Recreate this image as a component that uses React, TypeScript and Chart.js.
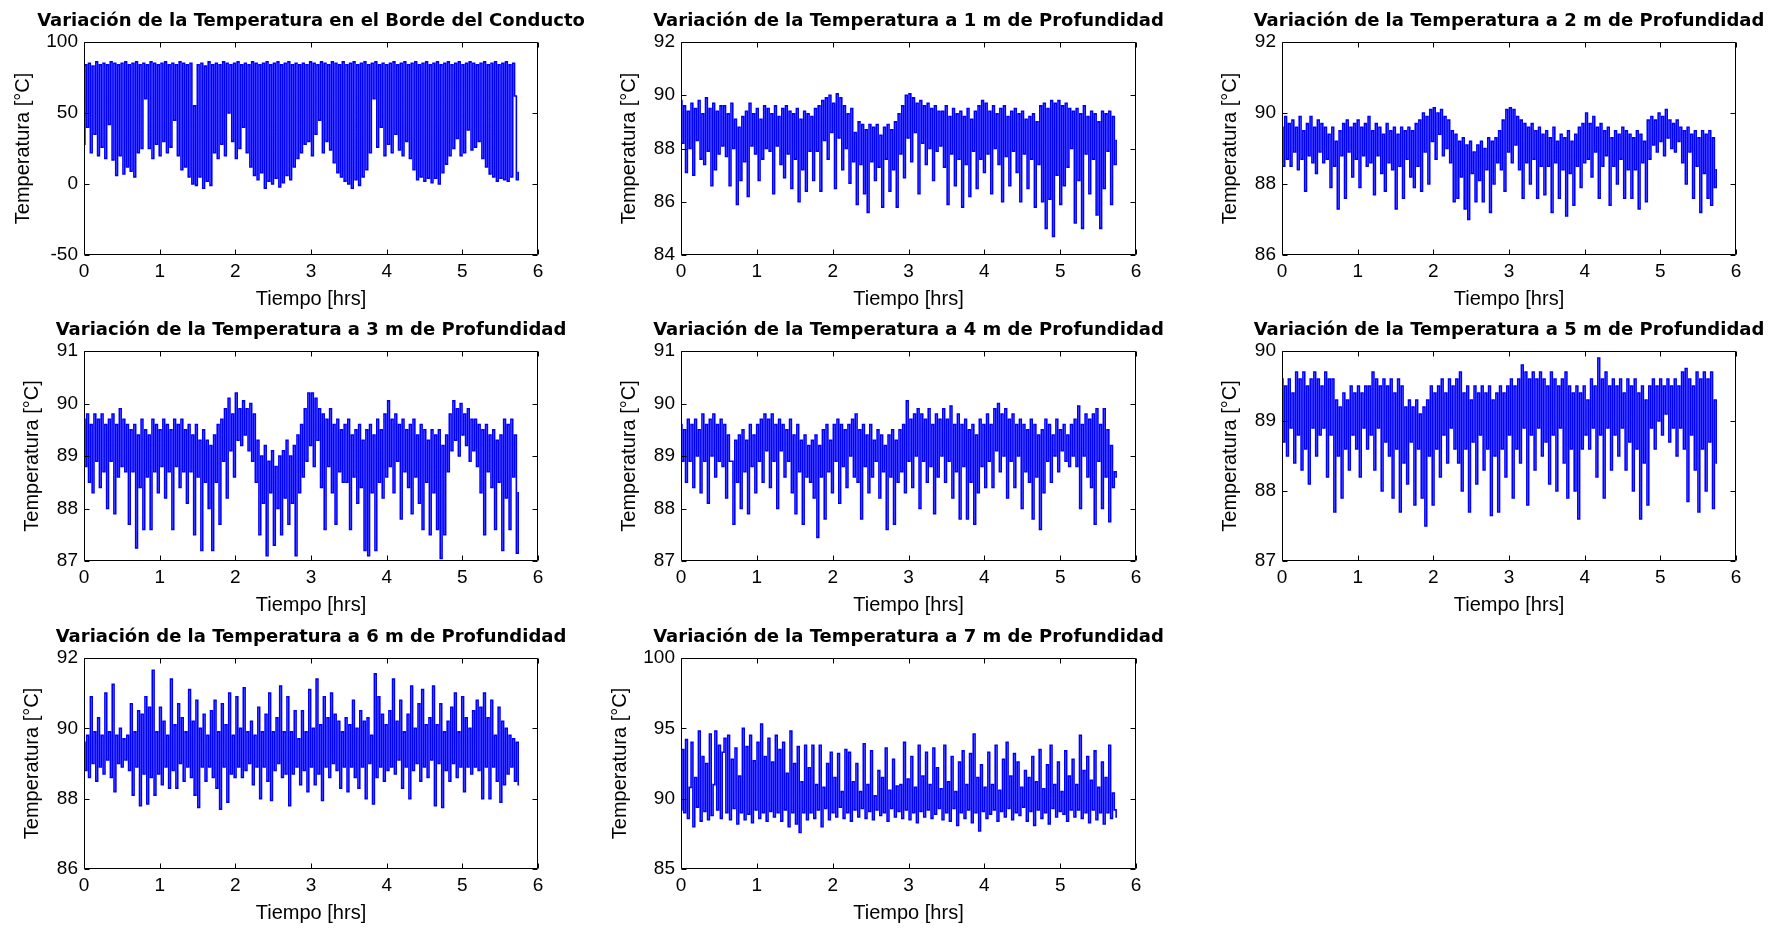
import React, { useEffect, useRef } from 'react';
import { Chart, registerables } from 'chart.js';

Chart.register(...registerables);

// ---------------- DATA ----------------
const TIEMPO_FIN_HRS = 5.75;
const X_MIN = 0;
const X_MAX = 6;
const X_STEP = 1;
const X_LABEL = 'Tiempo [hrs]';
const Y_LABEL = 'Temperatura [°C]';

const titulos = [
  'Variación de la Temperatura en el Borde del Conducto',
  'Variación de la Temperatura a 1 m de Profundidad',
  'Variación de la Temperatura a 2 m de Profundidad',
  'Variación de la Temperatura a 3 m de Profundidad',
  'Variación de la Temperatura a 4 m de Profundidad',
  'Variación de la Temperatura a 5 m de Profundidad',
  'Variación de la Temperatura a 6 m de Profundidad',
  'Variación de la Temperatura a 7 m de Profundidad',
];

// y-axis ranges [min, max, step]
const rangosY: [number, number, number][] = [
  [-50, 100, 50],
  [84, 92, 2],
  [86, 92, 2],
  [87, 91, 1],
  [87, 91, 1],
  [87, 90, 1],
  [86, 92, 2],
  [85, 100, 5],
];

const tempBorde = [
  28,84,40,85,22,83,35,86,20,84,26,85,18,84,42,86,17,85,6,84,20,85,7,86,
  12,84,9,85,5,86,22,84,25,85,60,84,25,86,18,85,28,84,20,85,30,86,22,84,
  26,85,45,84,20,86,10,85,12,84,5,85,0,55,-1,84,5,85,-3,83,2,86,-1,84,
  22,85,18,84,28,86,20,85,50,84,30,85,18,86,25,84,40,85,22,84,12,86,6,85,
  3,84,8,85,-3,86,2,84,0,85,4,86,-2,84,1,85,6,86,3,84,12,85,18,84,
  22,85,28,84,30,86,20,85,35,84,45,86,22,85,30,84,24,86,15,85,8,84,5,86,
  2,84,0,85,-3,86,3,84,-1,85,5,86,10,84,22,85,60,86,26,84,40,85,20,84,
  28,85,22,86,35,84,24,85,20,86,30,84,18,85,10,86,3,84,5,85,2,86,4,84,
  1,85,4,86,0,84,8,85,14,86,20,84,25,85,32,86,20,84,22,85,38,86,24,85,
  26,84,30,85,18,86,12,84,7,85,5,86,2,84,4,85,3,86,2,84,5,85,62,3,8,
];

const temp1m = [
  89.8,88.2,89.6,87.1,89.4,88.0,89.7,87.0,89.5,88.3,89.8,87.6,89.3,87.4,89.9,87.9,89.5,86.6,89.7,87.2,89.4,87.8,89.6,88.1,
  89.6,87.7,89.3,86.6,89.7,88.0,89.1,85.9,88.8,86.8,89.2,87.5,89.4,86.2,89.7,88.1,89.3,87.8,89.5,86.8,89.1,87.6,89.6,88.0,
  89.5,87.9,89.3,86.3,89.6,88.1,89.2,87.4,89.5,86.9,89.6,87.8,89.4,86.5,89.3,87.6,89.5,86.0,89.1,87.2,89.4,86.4,89.3,87.9,
  89.2,86.8,89.5,87.9,89.6,86.4,89.8,88.3,89.9,87.6,90.0,88.6,89.7,86.5,90.05,88.4,89.9,87.2,89.6,88.0,89.3,86.7,89.5,87.5,
  88.6,85.9,89.0,87.4,88.9,86.3,88.7,85.6,88.9,87.5,88.8,86.8,88.9,87.3,88.5,85.8,88.8,87.6,88.9,86.4,88.7,87.2,89.0,85.8,
  89.3,87.8,89.6,86.9,90.0,88.4,90.05,87.5,89.9,88.6,89.7,86.3,89.8,88.2,89.6,87.4,89.7,88.0,89.5,86.8,89.6,87.9,89.4,88.1,
  89.4,87.3,89.6,85.9,89.2,87.8,89.5,86.6,89.3,87.6,89.4,85.8,89.2,87.4,89.5,86.2,89.1,87.9,89.4,86.5,89.6,87.6,89.8,87.1,
  89.7,87.8,89.4,86.3,89.6,88.0,89.3,87.4,89.5,86.0,89.6,87.7,89.2,86.6,89.4,87.9,89.5,87.1,89.3,86.0,89.4,87.8,89.1,86.5,
  89.2,87.6,89.3,85.8,89.0,87.4,89.6,86.0,89.7,85.0,89.5,86.1,89.8,84.7,89.7,87.0,89.8,85.9,89.6,86.6,89.7,87.3,89.5,88.0,
  89.4,85.2,89.5,86.8,89.3,85.0,89.6,87.8,89.2,86.3,89.4,87.6,89.3,85.5,89.0,85.0,89.4,86.5,89.3,87.9,89.4,85.9,89.2,87.4,88.3,
];

const temp2m = [
  89.6,88.5,89.9,88.7,89.7,88.5,89.8,88.9,89.6,88.4,89.9,88.7,89.5,87.8,89.7,88.8,89.9,88.6,89.6,88.3,89.8,88.9,89.7,88.6,
  89.6,88.7,89.4,87.9,89.6,88.5,89.2,87.3,89.5,88.8,89.7,87.6,89.8,88.9,89.6,88.2,89.7,88.7,89.8,87.9,89.6,88.8,89.7,88.5,
  89.9,88.6,89.5,87.7,89.7,88.8,89.6,88.3,89.4,87.8,89.7,88.6,89.5,88.4,89.6,87.3,89.4,88.5,89.6,87.6,89.5,88.7,89.6,88.2,
  89.5,87.9,89.7,88.5,89.8,87.8,90.0,88.9,89.9,88.0,90.1,89.2,90.15,88.7,90.0,89.4,90.1,88.8,89.9,89.0,89.8,88.6,89.5,87.5,
  89.4,87.6,89.2,88.2,89.3,87.3,89.1,87.0,89.2,88.3,88.9,87.5,89.1,88.1,89.2,87.5,89.0,88.4,89.3,87.2,89.2,88.0,89.3,88.6,
  89.5,88.4,89.8,87.8,90.1,88.9,90.15,88.6,90.1,89.1,89.9,88.4,89.8,87.6,89.7,88.6,89.6,88.0,89.7,88.7,89.5,87.6,89.6,88.5,
  89.4,87.7,89.5,88.5,89.3,87.2,89.6,88.6,89.2,87.6,89.4,88.4,89.3,87.1,89.5,88.3,89.2,87.4,89.4,88.5,89.6,87.9,89.7,88.6,
  90.0,88.7,89.7,88.2,89.9,88.9,89.6,87.6,89.7,88.5,89.5,88.8,89.6,87.4,89.3,88.5,89.5,88.0,89.4,88.7,89.6,87.6,89.5,88.4,
  89.4,87.6,89.3,88.4,89.5,87.3,89.4,88.6,89.2,87.5,89.8,88.7,89.9,89.1,89.8,88.9,90.0,89.2,89.9,88.8,90.1,89.3,89.8,89.0,
  89.7,88.9,89.8,89.2,89.6,88.6,89.5,88.0,89.6,88.9,89.4,87.6,89.5,88.5,89.3,87.2,89.5,88.3,89.4,87.6,89.5,87.4,89.3,87.9,88.4,
];

const temp3m = [
  89.7,88.8,89.8,88.5,89.6,88.3,89.8,88.9,89.7,88.4,89.8,88.7,89.6,88.0,89.7,88.9,89.8,87.9,89.6,88.6,89.9,88.8,89.7,88.7,
  89.6,87.7,89.5,88.7,89.6,87.25,89.4,88.4,89.7,87.6,89.5,88.6,89.4,87.6,89.7,88.7,89.6,88.3,89.5,88.8,89.7,88.2,89.6,88.7,
  89.5,87.6,89.7,88.8,89.6,88.4,89.7,88.7,89.5,88.1,89.6,88.7,89.4,87.5,89.6,88.6,89.3,87.2,89.5,88.5,89.3,88.0,89.2,87.2,
  89.4,88.5,89.6,87.7,89.7,88.9,89.9,88.2,90.1,89.1,89.8,88.6,90.2,89.3,89.9,89.2,90.05,89.4,89.9,89.1,90.0,88.9,89.8,88.5,
  89.3,87.5,89.0,88.1,89.2,87.1,88.9,88.3,89.1,87.3,88.8,88.0,89.0,87.5,89.1,88.2,89.3,87.7,89.0,88.1,89.2,87.1,89.4,88.3,
  89.6,88.6,89.9,88.9,90.2,89.2,90.2,88.8,90.1,89.3,89.9,88.4,89.8,87.6,89.7,88.8,89.9,88.3,89.6,87.7,89.7,88.7,89.5,88.5,
  89.6,88.5,89.7,87.6,89.4,88.6,89.5,88.1,89.6,88.4,89.3,87.2,89.5,87.1,89.6,88.3,89.4,87.2,89.7,88.5,89.5,88.2,89.8,88.6,
  90.05,88.8,89.7,88.3,89.8,88.9,89.6,87.8,89.7,88.7,89.5,88.4,89.6,87.9,89.7,88.6,89.4,88.1,89.6,87.6,89.5,88.5,89.3,87.5,
  89.5,88.3,89.4,87.6,89.5,87.05,89.2,87.5,89.4,88.7,89.8,89.1,90.05,89.3,89.9,89.0,90.0,89.4,89.8,89.2,89.9,88.9,89.7,89.1,
  89.7,88.8,89.6,88.3,89.5,87.5,89.6,88.7,89.4,88.4,89.5,87.6,89.3,88.5,89.4,87.2,89.7,88.2,89.6,87.6,89.7,88.6,89.4,87.15,88.3,
];

const temp4m = [
  89.6,88.9,89.5,88.5,89.7,88.9,89.6,88.4,89.7,89.0,89.5,88.3,89.8,88.9,89.6,88.1,89.7,89.0,89.8,88.6,89.6,88.9,89.7,88.8,
  89.6,88.2,89.4,88.9,88.9,87.7,89.3,88.5,89.4,88.0,89.5,88.7,89.3,87.9,89.6,88.8,89.4,88.3,89.6,88.9,89.7,88.5,89.8,89.1,
  89.7,88.4,89.8,88.9,89.6,88.0,89.7,89.1,89.6,88.6,89.5,88.9,89.7,88.3,89.4,87.9,89.6,88.7,89.3,87.7,89.4,88.6,89.2,88.5,
  89.3,88.2,89.4,87.45,89.2,88.6,89.5,87.8,89.6,88.7,89.3,88.3,89.6,88.9,89.7,88.1,89.6,88.8,89.5,88.4,89.6,89.0,89.7,88.6,
  89.8,88.5,89.5,87.8,89.6,88.8,89.4,88.3,89.6,88.6,89.3,88.9,89.5,88.2,89.4,88.7,89.2,87.6,89.4,88.6,89.5,87.7,89.3,88.5,
  89.5,88.7,89.6,88.3,90.05,88.9,89.7,88.4,89.8,89.0,89.9,88.0,89.8,88.9,89.7,88.5,89.9,88.8,89.6,87.9,89.8,88.6,89.7,89.0,
  89.9,88.5,89.7,88.9,89.95,88.2,89.6,88.7,89.8,87.8,89.6,88.8,89.7,87.8,89.5,88.5,89.6,87.7,89.4,88.3,89.7,88.8,89.6,88.4,
  89.8,88.9,89.6,88.4,89.9,89.1,90.0,88.7,89.8,89.0,89.9,88.2,89.7,88.9,89.8,88.4,89.6,89.0,89.7,88.0,89.6,88.7,89.5,88.5,
  89.7,87.8,89.6,88.6,89.4,87.6,89.5,88.3,89.7,88.9,89.6,88.5,89.4,89.0,89.7,88.7,89.5,89.1,89.6,88.9,89.4,88.8,89.6,89.0,
  89.7,88.8,89.95,88.0,89.6,89.0,89.8,88.6,89.7,88.4,89.8,87.7,89.9,88.9,89.6,88.0,89.9,88.6,89.5,87.75,89.2,88.4,88.7,88.6,
];

const temp5m = [
  89.6,88.7,89.5,88.5,89.6,88.9,89.4,88.4,89.7,88.8,89.6,88.3,89.7,88.6,89.5,88.1,89.6,88.9,89.7,88.5,89.6,88.8,89.5,88.9,
  89.7,88.2,89.6,88.8,89.6,87.7,89.3,88.5,89.2,87.9,89.4,88.6,89.3,88.3,89.5,88.8,89.4,88.6,89.5,88.2,89.4,88.9,89.5,88.6,
  89.5,88.8,89.7,88.3,89.6,88.9,89.5,88.0,89.6,88.7,89.5,88.5,89.6,87.9,89.4,88.6,89.6,87.7,89.5,88.4,89.2,88.1,89.3,88.7,
  89.2,87.8,89.3,88.6,89.1,87.9,89.2,87.5,89.3,88.5,89.5,87.8,89.4,88.6,89.5,88.2,89.6,88.8,89.4,88.4,89.6,88.9,89.5,88.6,
  89.6,88.4,89.7,88.0,89.4,88.6,89.5,87.7,89.3,88.7,89.5,88.1,89.4,88.8,89.5,88.3,89.4,88.6,89.5,87.65,89.3,88.5,89.4,87.7,
  89.5,88.6,89.4,88.2,89.5,88.8,89.6,87.9,89.5,88.6,89.6,88.4,89.8,88.9,89.7,87.8,89.6,88.8,89.7,88.3,89.6,88.9,89.7,88.5,
  89.6,88.7,89.5,88.1,89.7,88.8,89.6,88.0,89.5,88.9,89.6,88.4,89.7,87.9,89.5,88.6,89.4,88.0,89.5,87.6,89.4,88.6,89.5,88.8,
  89.3,88.6,89.6,88.9,89.5,88.2,89.9,88.8,89.6,87.9,89.7,88.9,89.5,88.3,89.6,88.8,89.5,88.5,89.6,88.9,89.4,88.3,89.6,88.7,
  89.5,88.0,89.6,88.6,89.4,87.6,89.5,88.4,89.3,87.8,89.5,88.9,89.6,88.6,89.5,89.0,89.6,88.8,89.5,89.1,89.6,88.7,89.5,88.9,
  89.6,88.5,89.5,88.9,89.7,88.6,89.75,87.85,89.6,88.8,89.5,88.3,89.7,87.7,89.6,88.6,89.7,88.0,89.6,88.7,89.7,87.75,89.3,88.4,
];

const temp6m = [
  89.6,88.8,89.8,88.6,90.9,89.0,89.9,88.5,90.3,88.9,89.8,88.7,91.0,89.1,89.9,88.6,91.25,88.2,89.8,89.0,90.0,88.9,89.7,89.1,
  89.8,88.8,90.7,88.1,89.9,88.9,90.5,87.8,90.4,88.7,90.9,87.85,90.6,88.6,91.65,88.1,89.9,88.7,90.6,88.4,90.2,88.9,89.8,88.3,
  91.4,88.8,90.1,88.3,90.7,89.0,90.3,88.5,89.9,88.9,91.1,88.6,90.2,88.1,90.8,87.75,90.0,88.9,90.4,88.5,89.8,88.9,90.5,88.6,
  90.8,88.3,89.9,87.7,90.7,88.9,90.1,87.9,91.0,88.7,89.8,88.6,90.9,88.9,90.0,88.6,91.15,88.8,89.9,89.0,90.2,88.4,89.8,88.9,
  90.6,88.0,89.9,88.9,90.4,88.5,91.0,87.95,89.9,88.8,90.3,89.0,91.2,88.6,89.9,88.7,90.9,87.8,89.9,88.7,90.5,88.9,89.7,88.4,
  90.5,88.8,89.9,88.2,91.1,88.9,90.0,88.4,91.4,88.7,90.1,87.95,90.9,88.9,90.3,88.6,91.0,89.0,90.4,88.8,90.2,88.3,89.9,88.9,
  90.3,88.2,90.1,88.9,90.8,88.6,90.0,88.3,90.5,88.9,90.2,88.0,90.3,89.0,89.8,87.85,91.55,88.6,90.9,88.9,90.4,88.5,90.1,88.8,
  90.5,88.9,91.4,88.7,90.2,89.1,90.8,88.3,89.9,88.9,90.4,88.0,91.2,88.8,90.0,89.0,90.7,88.5,91.1,88.9,90.1,88.6,90.3,89.1,
  91.2,87.8,90.1,89.0,90.7,87.75,89.9,88.8,90.2,88.5,90.6,89.0,91.0,88.6,89.9,88.9,90.9,88.2,90.3,88.9,90.0,88.7,90.5,88.9,
  90.8,88.8,90.6,88.0,91.0,88.9,90.3,88.0,90.8,88.9,89.8,88.5,90.6,87.9,90.2,88.4,90.0,88.7,89.8,88.9,89.7,88.5,89.6,88.4,
];

const temp7m = [
  89.2,93.5,89.0,94.2,88.6,90.8,94.0,88.0,91.5,89.4,94.8,88.4,93.0,89.1,92.5,88.5,94.6,88.8,91.0,94.8,89.2,93.8,88.6,93.3,
  94.3,89.0,94.5,88.5,92.8,89.3,93.6,88.2,91.6,89.0,95.0,88.5,93.7,88.9,94.5,88.3,92.7,89.2,94.0,88.6,95.3,89.0,93.0,88.4,
  94.3,89.1,92.6,88.7,94.5,89.0,93.5,88.4,94.0,89.2,91.8,88.0,94.8,89.0,92.5,88.2,93.7,87.6,91.2,89.0,93.8,88.5,92.2,89.0,
  93.8,88.6,91.0,89.2,93.8,88.0,90.8,89.3,92.5,88.5,93.3,89.0,91.5,88.7,93.2,89.4,90.5,88.6,93.5,89.0,93.3,88.4,91.2,89.2,
  92.5,88.7,90.5,89.3,93.9,88.6,91.0,89.1,93.4,88.5,90.2,89.2,92.0,88.8,91.5,89.0,93.6,88.4,90.6,89.3,92.8,88.7,90.9,89.1,
  91.0,88.6,94.0,89.2,91.4,88.5,93.0,89.0,90.8,88.3,93.8,89.1,91.6,88.7,93.3,89.2,91.0,88.6,93.6,88.9,92.2,89.3,90.7,88.5,
  93.8,89.0,91.2,88.4,93.0,89.3,90.5,88.1,92.6,89.0,93.4,88.6,91.0,89.2,93.2,88.3,94.6,89.0,91.5,87.7,92.4,89.1,90.8,88.6,
  93.3,88.9,91.0,89.2,93.8,88.4,90.6,89.1,92.8,88.7,94.0,89.3,91.6,88.5,93.2,89.0,92.6,88.8,90.8,89.4,92.0,88.4,91.5,89.1,
  93.0,88.1,91.2,89.2,93.5,88.6,90.7,89.0,92.4,88.2,93.8,89.3,91.0,88.7,92.6,89.1,90.5,88.9,93.4,88.4,91.6,89.2,92.8,88.7,
  91.0,89.2,94.5,88.6,92.0,89.0,93.0,88.3,91.3,89.2,93.4,88.5,90.8,89.0,92.6,88.2,91.5,89.0,93.8,88.6,90.4,89.2,88.7,
];

const series = [tempBorde, temp1m, temp2m, temp3m, temp4m, temp5m, temp6m, temp7m];

// ---------------- LAYOUT (positions, not data) ----------------
const MARGIN_L = 80;
const MARGIN_R = 80;
const MARGIN_T = 42;
const MARGIN_B = 58;

const plotBoxes = [
  { left: 84, top: 42, w: 454, h: 213, yPad: 7 },
  { left: 681, top: 42, w: 455, h: 213, yPad: 16.5 },
  { left: 1282, top: 42, w: 454, h: 213, yPad: 16.5 },
  { left: 84, top: 351, w: 454, h: 210, yPad: 16.5 },
  { left: 681, top: 351, w: 455, h: 210, yPad: 16.5 },
  { left: 1282, top: 351, w: 454, h: 210, yPad: 16.5 },
  { left: 84, top: 658, w: 454, h: 211, yPad: 16.5 },
  { left: 681, top: 658, w: 455, h: 211, yPad: 7 },
];

const LABEL_FONT = "'Liberation Sans', Arial, Helvetica, sans-serif";
const TITLE_FONT = "'DejaVu Sans', 'Liberation Sans', Arial, sans-serif";
const LINE_COLOR = '#0000ff';
const LINE_WIDTH = 1.6;

const matlabBox = {
  id: 'matlabBox',
  afterDraw(chart: any) {
    const { ctx, chartArea: a, scales } = chart;
    const len = 5;
    ctx.save();
    ctx.strokeStyle = '#000';
    ctx.lineWidth = 1;
    ctx.beginPath();
    const L = Math.round(a.left) + 0.5;
    const R = Math.round(a.right) - 0.5;
    const T = Math.round(a.top) + 0.5;
    const B = Math.round(a.bottom) - 0.5;
    ctx.rect(L, T, R - L, B - T);
    scales.x.ticks.forEach((t: any) => {
      const px = Math.round(scales.x.getPixelForValue(t.value)) + 0.5;
      ctx.moveTo(px, B);
      ctx.lineTo(px, B - len);
      ctx.moveTo(px, T);
      ctx.lineTo(px, T + len);
    });
    scales.y.ticks.forEach((t: any) => {
      const py = Math.round(scales.y.getPixelForValue(t.value)) + 0.5;
      ctx.moveTo(L, py);
      ctx.lineTo(L + len, py);
      ctx.moveTo(R, py);
      ctx.lineTo(R - len, py);
    });
    ctx.stroke();
    ctx.restore();
  },
};

function Panel({ idx }: { idx: number }) {
  const ref = useRef<HTMLCanvasElement>(null);
  const box = plotBoxes[idx];
  const cw = MARGIN_L + box.w + MARGIN_R;
  const ch = MARGIN_T + box.h + MARGIN_B;

  useEffect(() => {
    const vals = series[idx];
    const dt = TIEMPO_FIN_HRS / (vals.length - 1);
    const pts = vals.map((v, i) => ({ x: i * dt, y: v }));
    const [ymin, ymax, ystep] = rangosY[idx];
    const chart = new Chart(ref.current as HTMLCanvasElement, {
      type: 'line',
      data: {
        datasets: [
          {
            data: pts,
            borderColor: LINE_COLOR,
            borderWidth: LINE_WIDTH,
            borderJoinStyle: 'miter',
            stepped: 'middle',
            pointRadius: 0,
            tension: 0,
            fill: false,
            xAxisID: 'x',
            yAxisID: 'y',
          },
        ],
      },
      options: {
        animation: false,
        responsive: false,
        events: [],
        layout: { padding: 0 },
        plugins: {
          legend: { display: false },
          tooltip: { enabled: false },
          title: {
            display: true,
            text: titulos[idx],
            color: '#000',
            fullSize: true,
            font: { family: TITLE_FONT, size: 18, weight: 'bold', lineHeight: '20px' } as any,
            padding: { top: 11, bottom: 11 },
          },
        },
        scales: {
          x: {
            type: 'linear',
            position: 'bottom',
            min: X_MIN,
            max: X_MAX,
            ticks: { stepSize: X_STEP, color: '#000', padding: 5, font: { family: LABEL_FONT, size: 19 }, maxRotation: 0 },
            grid: { display: false, drawTicks: false },
            border: { display: false },
            title: {
              display: true,
              text: X_LABEL,
              color: '#000',
              font: { family: LABEL_FONT, size: 20 },
              padding: { top: 0, bottom: 2 },
            },
            afterFit: (s: any) => {
              s.height = MARGIN_B;
            },
          },
          y: {
            type: 'linear',
            position: 'left',
            min: ymin,
            max: ymax,
            ticks: { stepSize: ystep, color: '#000', padding: 6, font: { family: LABEL_FONT, size: 19 } },
            grid: { display: false, drawTicks: false },
            border: { display: false },
            title: {
              display: true,
              text: Y_LABEL,
              color: '#000',
              font: { family: LABEL_FONT, size: 20 },
              padding: { top: box.yPad, bottom: 0 },
            },
            afterFit: (s: any) => {
              s.width = MARGIN_L;
            },
          },
          yR: {
            type: 'linear',
            position: 'right',
            display: true,
            ticks: { display: false },
            grid: { display: false, drawTicks: false },
            border: { display: false },
            afterFit: (s: any) => {
              s.width = MARGIN_R;
            },
          },
        },
      } as any,
      plugins: [matlabBox],
    });
    return () => chart.destroy();
  }, [idx]);

  return (
    <canvas
      ref={ref}
      width={cw}
      height={ch}
      style={{
        position: 'absolute',
        left: box.left - MARGIN_L,
        top: box.top - MARGIN_T,
        width: cw,
        height: ch,
      }}
    />
  );
}

export default function App() {
  return (
    <div
      style={{
        position: 'fixed',
        left: 0,
        top: 0,
        width: 1777,
        height: 928,
        overflow: 'hidden',
        background: '#ffffff',
      }}
    >
      {titulos.map((_, i) => (
        <Panel key={i} idx={i} />
      ))}
    </div>
  );
}
